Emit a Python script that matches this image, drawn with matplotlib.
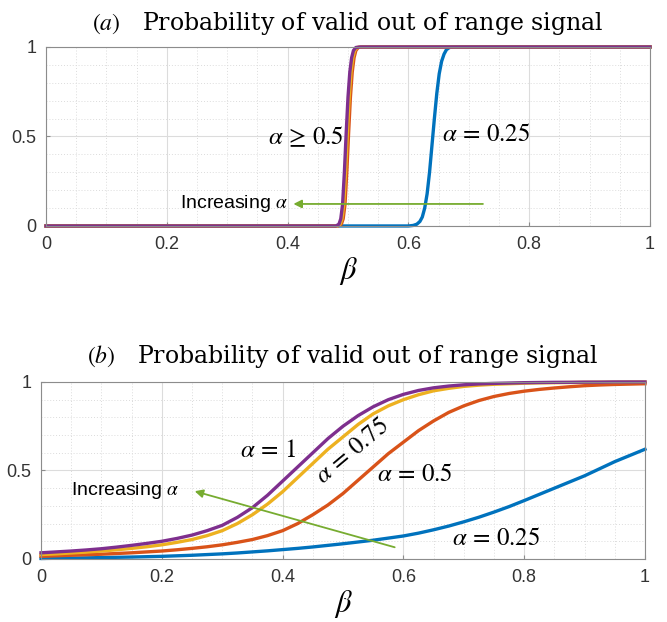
import matplotlib
matplotlib.use("Agg")
import matplotlib.pyplot as plt
import numpy as np

plt.rcParams['mathtext.fontset'] = 'stix'
plt.rcParams['font.family'] = ['Liberation Serif', 'DejaVu Serif']

# Panel (a): sharp transitions
beta_a_blue = [0, 0.600, 0.608, 0.614, 0.619, 0.623, 0.627, 0.631, 0.635, 0.639, 0.643,
               0.647, 0.651, 0.655, 0.659, 0.663, 0.668, 0.675, 1.0]
p_a_blue = [0, 0, 0.003, 0.01, 0.025, 0.05, 0.10, 0.18, 0.30, 0.45, 0.60,
            0.74, 0.85, 0.92, 0.96, 0.985, 0.997, 1.0, 1.0]
beta_a_orange = [0, 0.484, 0.489, 0.492, 0.495, 0.498, 0.501, 0.504, 0.507, 0.510, 0.513, 0.517, 0.524, 1.0]
p_a_orange = [0, 0, 0.01, 0.04, 0.12, 0.30, 0.52, 0.72, 0.86, 0.94, 0.98, 0.997, 1.0, 1.0]
beta_a_yellow = [0, 0.482, 0.487, 0.490, 0.493, 0.496, 0.499, 0.502, 0.505, 0.508, 0.511, 0.515, 0.522, 1.0]
p_a_yellow = [0, 0, 0.01, 0.04, 0.12, 0.30, 0.52, 0.72, 0.86, 0.94, 0.98, 0.997, 1.0, 1.0]
beta_a_purple = [0, 0.480, 0.485, 0.488, 0.491, 0.494, 0.497, 0.500, 0.503, 0.506, 0.509, 0.513, 0.520, 1.0]
p_a_purple = [0, 0, 0.01, 0.04, 0.12, 0.30, 0.52, 0.72, 0.86, 0.94, 0.98, 0.997, 1.0, 1.0]

# Panel (b): smooth curves
beta_b = [0.000, 0.025, 0.050, 0.075, 0.100, 0.125, 0.150, 0.175, 0.200, 0.225,
          0.250, 0.275, 0.300, 0.325, 0.350, 0.375, 0.400, 0.425, 0.450, 0.475,
          0.500, 0.525, 0.550, 0.575, 0.600, 0.625, 0.650, 0.675, 0.700, 0.725,
          0.750, 0.775, 0.800, 0.825, 0.850, 0.875, 0.900, 0.925, 0.950, 0.975, 1.000]
p_b_blue = [0.003, 0.004, 0.005, 0.0065, 0.008, 0.0095, 0.011, 0.013, 0.015, 0.018,
            0.021, 0.025, 0.029, 0.034, 0.040, 0.046, 0.053, 0.060, 0.068, 0.077,
            0.086, 0.096, 0.106, 0.118, 0.130, 0.146, 0.165, 0.186, 0.210, 0.236,
            0.265, 0.296, 0.330, 0.365, 0.400, 0.435, 0.470, 0.510, 0.550, 0.585, 0.620]
p_b_orange = [0.015, 0.018, 0.021, 0.024, 0.027, 0.031, 0.035, 0.040, 0.045, 0.052,
              0.060, 0.069, 0.080, 0.094, 0.110, 0.132, 0.160, 0.200, 0.250, 0.305,
              0.370, 0.445, 0.520, 0.595, 0.660, 0.725, 0.780, 0.828, 0.865, 0.895,
              0.918, 0.935, 0.948, 0.958, 0.966, 0.973, 0.979, 0.983, 0.986, 0.988, 0.990]
p_b_yellow = [0.025, 0.029, 0.034, 0.039, 0.045, 0.052, 0.060, 0.069, 0.080, 0.094,
              0.110, 0.132, 0.160, 0.200, 0.250, 0.310, 0.380, 0.460, 0.540, 0.620,
              0.690, 0.760, 0.820, 0.865, 0.900, 0.928, 0.950, 0.964, 0.975, 0.982,
              0.987, 0.990, 0.993, 0.995, 0.996, 0.997, 0.998, 0.999, 0.999, 1.000, 1.000]
p_b_purple = [0.035, 0.040, 0.045, 0.051, 0.058, 0.067, 0.077, 0.088, 0.100, 0.116,
              0.135, 0.160, 0.190, 0.235, 0.290, 0.360, 0.440, 0.520, 0.600, 0.680,
              0.750, 0.810, 0.860, 0.900, 0.930, 0.952, 0.967, 0.977, 0.984, 0.989,
              0.992, 0.994, 0.996, 0.997, 0.998, 0.998, 0.999, 0.999, 1.000, 1.000, 1.000]

c_blue = '#0072BD'
c_orange = '#D95319'
c_yellow = '#EDB120'
c_purple = '#7E2F8E'
c_green = '#77AC30'

title = 'Probability of valid out of range signal'
tick_font = ['Liberation Sans Narrow', 'Liberation Sans', 'DejaVu Sans']
title_font = ['DejaVu Serif']

fig = plt.figure(figsize=(6.67, 6.22), dpi=100)
ax1 = fig.add_axes([0.069, 0.6367, 0.9055, 0.2878])
ax2 = fig.add_axes([0.0615, 0.1013, 0.9055, 0.2846])


def style(ax):
    ax.set_xlim(0, 1)
    ax.set_ylim(0, 1)
    ax.set_xticks([0, 0.2, 0.4, 0.6, 0.8, 1])
    ax.set_xticklabels(['0', '0.2', '0.4', '0.6', '0.8', '1'])
    ax.set_yticks([0, 0.5, 1])
    ax.set_yticklabels(['0', '0.5', '1'])
    ax.set_xticks(np.arange(0, 1.001, 0.05), minor=True)
    ax.set_yticks(np.arange(0, 1.001, 0.1), minor=True)
    ax.grid(which='major', color='#dcdcdc', linewidth=0.8)
    ax.grid(which='minor', color='#dcdcdc', linestyle=(0, (1, 2)), linewidth=0.7)
    ax.set_axisbelow(True)
    for s in ax.spines.values():
        s.set_color('#8c8c8c')
        s.set_linewidth(0.8)
    ax.tick_params(which='both', direction='in', length=3, color='#8c8c8c',
                   labelsize=13, labelcolor='#333333', pad=7)
    ax.tick_params(which='minor', length=0)
    for lab in ax.get_xticklabels() + ax.get_yticklabels():
        lab.set_family(tick_font)
    ax.set_xlabel(r'$\beta$', fontsize=22, labelpad=2)


lw = 2.4
ax1.plot(beta_a_blue, p_a_blue, color=c_blue, lw=lw, clip_on=False)
ax1.plot(beta_a_orange, p_a_orange, color=c_orange, lw=lw, clip_on=False)
ax1.plot(beta_a_yellow, p_a_yellow, color=c_yellow, lw=lw, clip_on=False)
ax1.plot(beta_a_purple, p_a_purple, color=c_purple, lw=lw, clip_on=False)
style(ax1)
ax1.set_title(r'$(a)$   ' + title, fontsize=17, pad=12, family=title_font)
ax1.annotate('', xy=(0.405, 0.123), xytext=(0.728, 0.123),
             arrowprops=dict(arrowstyle='-|>', color=c_green, lw=1.3, mutation_scale=12))
ax1.text(0.40, 0.123, r'Increasing $\alpha$', fontsize=14, ha='right', va='center',
         family=tick_font)
ax1.text(0.367, 0.5, r'$\alpha\,\geq\,0.5$', fontsize=18, ha='left', va='center')
ax1.text(0.656, 0.51, r'$\alpha\,=\,0.25$', fontsize=18, ha='left', va='center')

ax2.plot(beta_b, p_b_blue, color=c_blue, lw=lw, clip_on=False)
ax2.plot(beta_b, p_b_orange, color=c_orange, lw=lw, clip_on=False)
ax2.plot(beta_b, p_b_yellow, color=c_yellow, lw=lw, clip_on=False)
ax2.plot(beta_b, p_b_purple, color=c_purple, lw=lw, clip_on=False)
style(ax2)
ax2.set_title(r'$(b)$   ' + title, fontsize=17, pad=14, family=title_font)
ax2.annotate('', xy=(0.25, 0.387), xytext=(0.59, 0.062),
             arrowprops=dict(arrowstyle='-|>', color=c_green, lw=1.3, mutation_scale=12))
ax2.text(0.05, 0.387, r'Increasing $\alpha$', fontsize=14, ha='left', va='center',
         family=tick_font)
ax2.text(0.33, 0.61, r'$\alpha\,=\,1$', fontsize=18, ha='left', va='center')
ax2.text(0.516, 0.607, r'$\alpha\,=\,0.75$', fontsize=18, ha='center', va='center', rotation=40)
ax2.text(0.556, 0.475, r'$\alpha\,=\,0.5$', fontsize=18, ha='left', va='center')
ax2.text(0.68, 0.113, r'$\alpha\,=\,0.25$', fontsize=18, ha='left', va='center')

fig.savefig('out.png', dpi=100)
